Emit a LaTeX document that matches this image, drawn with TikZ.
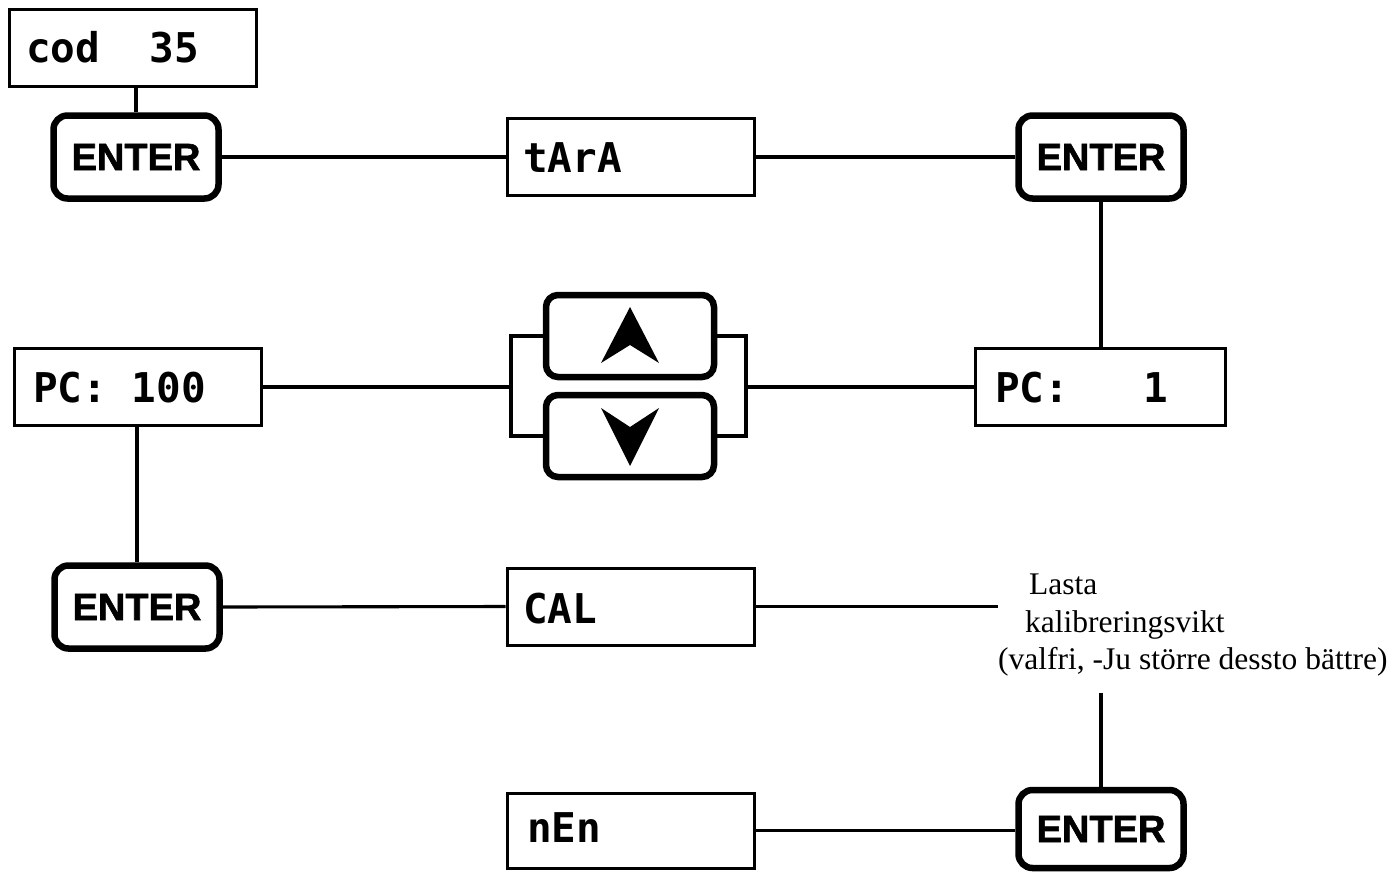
\documentclass[tikz,border=0pt]{standalone}
\usepackage{fontspec}
\setmainfont{Liberation Serif}
\newfontfamily\lcdfont{DejaVu Sans Mono}
\newfontfamily\keyfont{Liberation Sans}[BoldFeatures={FakeBold=1.6}]
\begin{document}
\begin{tikzpicture}[x=1pt,y=-1pt,
  disp/.style={draw, line width=3pt, minimum width=247pt, minimum height=77pt, inner sep=0pt},
  keybox/.style={draw, line width=6.5pt, rounded corners=14pt, minimum width=165pt, minimum height=83pt,
    inner sep=0pt, font=\keyfont\bfseries\fontsize{38}{38}\selectfont},
  arrowkey/.style={draw, line width=6.5pt, rounded corners=12pt, minimum width=168pt, minimum height=82pt, inner sep=0pt},
  lcd/.style={font=\lcdfont\bfseries\fontsize{41}{41}\selectfont, anchor=base west, inner sep=0pt},
  wire/.style={line width=3.1pt},
  chevron/.style={fill=black}
]
\useasboundingbox (0,0) rectangle (1399,873);

% display boxes
\node[disp] (cod) at (132.5,47.5) {};
\node[disp] (tara) at (630.5,157) {};
\node[disp] (pc100) at (138,387) {};
\node[disp, minimum width=250pt] (pc1) at (1100,387) {};
\node[disp] (cal) at (630.5,606.5) {};
\node[disp, minimum height=75pt] (nen) at (630.5,830.5) {};

% display texts
\node[lcd] (codtxt) at (26,62) {cod\ \ 35};
\node[lcd] (taratxt) at (523,172) {tArA};
\node[lcd] (pc100txt) at (33,402) {PC:\ 100};
\node[lcd] (pc1txt) at (995,402) {PC:\ \ \ 1};
\node[lcd] (caltxt) at (523,623) {CAL};
\node[lcd] (nentxt) at (527,842) {nEn};

% ENTER keys
\node[keybox] (e1) at (136,157) {ENTER};
\node[keybox] (e2) at (1101,157) {ENTER};
\node[keybox] (e3) at (137,607) {ENTER};
\node[keybox, minimum height=78pt] (e4) at (1101,829) {ENTER};

% arrow keys
\node[arrowkey] (up) at (630,336) {};
\node[arrowkey] (down) at (630,436) {};
\fill[chevron, shift={(up.center)}] (0,-29) -- (29,27) -- (0,9) -- (-29,27) -- cycle;
\fill[chevron, shift={(down.center)}] (-29,-28) -- (0,-9) -- (29,-28) -- (0,30) -- cycle;

% label
\node[anchor=north west, inner xsep=0pt, inner ysep=16pt, align=left,
  font=\fontsize{31.5}{37.5}\selectfont] (lbl) at (998,558)
  {\hspace*{31pt}Lasta\\\hspace*{27pt}kalibreringsvikt\\(valfri, -Ju större dessto bättre)};

% bracket coordinates
\coordinate (bl) at (511,387);
\coordinate (br) at (746,387);

% connectors
\draw[wire] (e1.north |- cod.south) -- (e1.north);
\draw[wire] (e1.east) -- (tara.west);
\draw[wire] (tara.east) -- (e2.west);
\draw[wire] (e2.south) -- (e2.south |- pc1.north);
\draw[wire] (pc100.east) -- (bl);
\draw[wire] (up.west) -| (bl) |- (down.west);
\draw[wire] (up.east) -| (br) |- (down.east);
\draw[wire] (br) -- (pc1.west);
\draw[wire] (e3.north |- pc100.south) -- (e3.north);
\draw[wire] (e3.east) -- (cal.west);
\draw[wire] (cal.east) -- (cal.east -| lbl.west);
\draw[wire] (e4.north |- lbl.south) -- (e4.north);
\draw[wire] (nen.east) -- (nen.east -| e4.west);
\end{tikzpicture}
\end{document}
